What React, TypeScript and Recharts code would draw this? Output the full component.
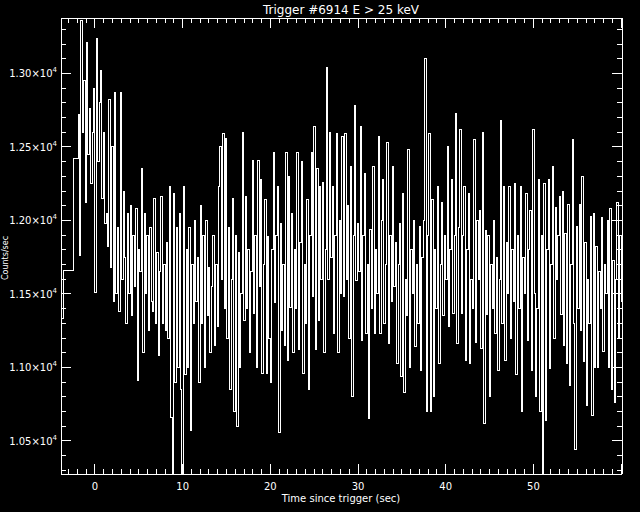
import React from 'react';
import { LineChart, Line, XAxis, YAxis } from 'recharts';

// coarse pre-trigger bins (start time, counts/s)
const preStart = [-3.87, -3.53, -2.47];
const preCounts = [11330, 11660, 12420];

// fine bins from -1.92 s, 0.16 s wide
const fineStart = -1.92;
const fineWidth = 0.16;
const fineCounts = [
	12720, 11760, 13360, 12600, 12950, 12120, 13210, 12450, 12760, 12250, 12600, 12900, 11510, 13240, 12400, 12800,
	13020, 12150, 12600, 11980, 12050, 11820, 12820, 11680, 12500,
	11450, 12870, 11500, 11950, 11380, 12870, 11600, 12200, 11750, 11300, 12050, 11500, 12100, 11350, 11900, 11550,
	12080, 10910, 11800, 11650, 12350, 11100, 12050, 11500, 11900, 11250, 11950, 11450, 11380, 12150, 11300, 11780,
	11080, 11650,
	12160, 11300, 11700, 11250, 11850, 11200, 12230, 10660, 10275, 12180, 10900, 11950, 11000, 12050, 10850, 10275,
	12230, 10950, 11800, 11000, 11950, 10570, 11700,
	11300, 12000, 11450, 11750, 10900, 12100, 11300, 11900, 11000, 12000, 11350, 11680, 11100, 11550, 11900, 11150,
	11700, 11280, 12230, 12500, 11600, 12590, 11400, 12560, 11200,
	11950, 10850, 11600, 12150, 10700, 11900, 10600, 11780, 11000, 11500, 12600, 11320, 12160, 11400, 11800, 11100,
	11650, 12410, 11370, 11900, 11000, 12410, 11550,
	12280, 10960, 11700, 12140, 10960, 11890, 11200, 10900, 11800, 12460, 11440, 11900, 12230, 10560, 11980, 11250,
	11700, 11150, 12460, 11050, 12300, 11410, 12050, 11100, 11800, 11400, 12460, 11120, 11850, 12400, 10960, 11700,
	11300, 12140, 10850, 11900, 12460, 11480, 12640, 11120, 12350, 11320, 12230, 11600, 12260, 11100, 11800, 13040,
	11600, 12600, 11750, 12230, 11230, 11900, 12590, 11100, 12000, 11500, 12570, 11480, 12590, 11600, 12100, 11200,
	12370, 10800, 11900, 12780, 11590, 11980, 11650,
	12640, 11180, 11900, 12320, 11230, 11700, 10650, 11940, 11400, 12370, 11230, 11800, 11500, 12570, 11230, 12000,
	12280, 11300, 11700, 12530, 11160, 11900, 11450, 12370, 11550, 11850, 11030, 11700, 11980, 10940, 12180, 10830,
	11600, 11350, 12480, 11000, 11800, 11500, 12000, 11140, 11700, 11300, 11960, 10980, 11750, 12000, 13100, 10700,
	11900, 12590, 10700, 12140, 10800, 11800, 11400, 12230, 11030, 11700, 12120, 11350, 11900, 11600, 12500, 11280,
	11800, 12280, 11370, 11900, 12730, 11160, 11950,
	12620, 11370, 11900, 12230, 11050, 11800, 12180, 11030, 11600, 11400, 12550, 11170, 12000, 11600, 12070, 11130,
	12600, 10620, 11930, 11360, 11900, 10800, 11700, 11400, 12000, 11230, 11750, 10980, 11600, 12680, 11300, 12230,
	11050, 11850, 11500, 12230, 11200, 11800, 11450, 12250, 10950, 11900, 11400, 12230, 10700, 11750, 11500, 12180,
	11180, 11800, 12070, 10980, 12620, 11500, 10800, 11400, 12280, 10700, 11900, 10275, 12250, 10640, 11800, 12280,
	10990, 11700, 12370, 11200, 12090, 11600, 11900,
	12160, 11360, 12200, 11150, 11910, 11030, 12110, 10880, 11700, 12550, 11300, 10440, 11960, 11400, 12110, 11250,
	12300, 11040, 11850, 10740, 11600, 11300, 12030, 10670, 12050, 11000, 11820, 11000, 11650, 11400, 12020, 11110,
	11700, 11500, 12000, 11000, 12080, 10850, 11730, 10760, 11600, 12120, 11200, 11900, 11450,
];

const xTicks = [
	-3, -2, -1, 0, 1, 2, 3, 4, 5, 6, 7, 8, 9, 10, 11, 12, 13, 14, 15, 16, 17, 18, 19, 20, 21, 22, 23, 24, 25, 26, 27, 28,
	29, 30, 31, 32, 33, 34, 35, 36, 37, 38, 39, 40, 41, 42, 43, 44, 45, 46, 47, 48, 49, 50, 51, 52, 53, 54, 55, 56, 57,
	58, 59, 60,
];
const xMajor = [0, 10, 20, 30, 40, 50, 60];
const yTicks = [
	10300, 10400, 10500, 10600, 10700, 10800, 10900, 11000, 11100, 11200, 11300, 11400, 11500, 11600, 11700, 11800,
	11900, 12000, 12100, 12200, 12300, 12400, 12500, 12600, 12700, 12800, 12900, 13000, 13100, 13200, 13300,
];
const yMajor = [10500, 11000, 11500, 12000, 12500, 13000];

const X_MIN = -3.87;
const X_MAX = 60.1;
const Y_MIN = 10275;
const Y_MAX = 13377;

const FONT = 'DejaVu Sans';

const rows = [
	...preStart.map((t, i) => ({ t, v: preCounts[i] })),
	...fineCounts.map((v, i) => ({ t: +(fineStart + i * fineWidth).toFixed(3), v })),
	{ t: fineStart + fineCounts.length * fineWidth, v: fineCounts[fineCounts.length - 1] },
];

const BottomTick = (props: any) => {
	const { x, y, payload } = props;
	const major = xMajor.includes(payload.value);
	return (
		<g>
			<line x1={x} x2={x} y1={y} y2={y - (major ? 10 : 5)} stroke='#fff' />
			{major && payload.value < 60 && (
				<text x={x} y={y + 16} fill='#fff' textAnchor='middle' fontSize={10} fontFamily={FONT}>
					{payload.value}
				</text>
			)}
		</g>
	);
};

const TopTick = (props: any) => {
	const { x, y, payload } = props;
	const major = xMajor.includes(payload.value);
	return <line x1={x} x2={x} y1={y} y2={y + (major ? 10 : 5)} stroke='#fff' />;
};

const LeftTick = (props: any) => {
	const { x, y, payload } = props;
	const major = yMajor.includes(payload.value);
	return (
		<g>
			<line x1={x} x2={x + (major ? 10 : 5)} y1={y} y2={y} stroke='#fff' />
			{major && (
				<text x={x - 4} y={y + 4} fill='#fff' textAnchor='end' fontSize={10} fontFamily={FONT}>
					{(payload.value / 10000).toFixed(2)}×10
					<tspan fontSize={7} dy={-5}>4</tspan>
				</text>
			)}
		</g>
	);
};

const RightTick = (props: any) => {
	const { x, y, payload } = props;
	const major = yMajor.includes(payload.value);
	return <line x1={x} x2={x - (major ? 10 : 5)} y1={y} y2={y} stroke='#fff' />;
};

export default function App() {
	return (
		<div style={{ position: 'absolute', left: 0, top: 0, width: 640, height: 512, background: '#000' }}>
			<style>{'.recharts-surface path, .recharts-surface line { shape-rendering: crispEdges; }'}</style>
			<LineChart width={640} height={512} data={rows} margin={{ top: 0, right: 0, bottom: 0, left: 0 }}>
				<XAxis
					xAxisId='b'
					dataKey='t'
					type='number'
					orientation='bottom'
					height={38}
					domain={[X_MIN, X_MAX]}
					allowDataOverflow
					ticks={xTicks}
					interval={0}
					tickLine={false}
					tickSize={0}
					tickMargin={0}
					axisLine={{ stroke: '#fff' }}
					tick={BottomTick}
				/>
				<XAxis
					xAxisId='t'
					dataKey='t'
					type='number'
					orientation='top'
					height={18}
					domain={[X_MIN, X_MAX]}
					allowDataOverflow
					ticks={xTicks}
					interval={0}
					tickLine={false}
					tickSize={0}
					tickMargin={0}
					axisLine={{ stroke: '#fff' }}
					tick={TopTick}
				/>
				<YAxis
					yAxisId='l'
					type='number'
					orientation='left'
					width={61}
					domain={[Y_MIN, Y_MAX]}
					allowDataOverflow
					ticks={yTicks}
					interval={0}
					tickLine={false}
					tickSize={0}
					tickMargin={0}
					axisLine={{ stroke: '#fff' }}
					tick={LeftTick}
				/>
				<YAxis
					yAxisId='r'
					type='number'
					orientation='right'
					width={18}
					domain={[Y_MIN, Y_MAX]}
					allowDataOverflow
					ticks={yTicks}
					interval={0}
					tickLine={false}
					tickSize={0}
					tickMargin={0}
					axisLine={{ stroke: '#fff' }}
					tick={RightTick}
				/>
				<Line
					xAxisId='t'
					yAxisId='r'
					dataKey='v'
					stroke='none'
					dot={false}
					isAnimationActive={false}
				/>
				<Line
					xAxisId='b'
					yAxisId='l'
					type='stepAfter'
					dataKey='v'
					stroke='#fff'
					strokeWidth={1}
					dot={false}
					isAnimationActive={false}
				/>
			</LineChart>
			<svg
				width={640}
				height={512}
				style={{ position: 'absolute', left: 0, top: 0, pointerEvents: 'none' }}
			>
				<text x={341} y={14} fill='#fff' textAnchor='middle' fontSize={12} fontFamily={FONT}>
					Trigger #6914 E &gt; 25 keV
				</text>
				<text x={341} y={502} fill='#fff' textAnchor='middle' fontSize={10} fontFamily={FONT}>
					Time since trigger (sec)
				</text>
				<text
					x={8}
					y={258}
					fill='#fff'
					textAnchor='middle'
					fontSize={8}
					fontFamily={FONT}
					transform='rotate(-90 8 258)'
				>
					Counts/sec
				</text>
			</svg>
		</div>
	);
}
